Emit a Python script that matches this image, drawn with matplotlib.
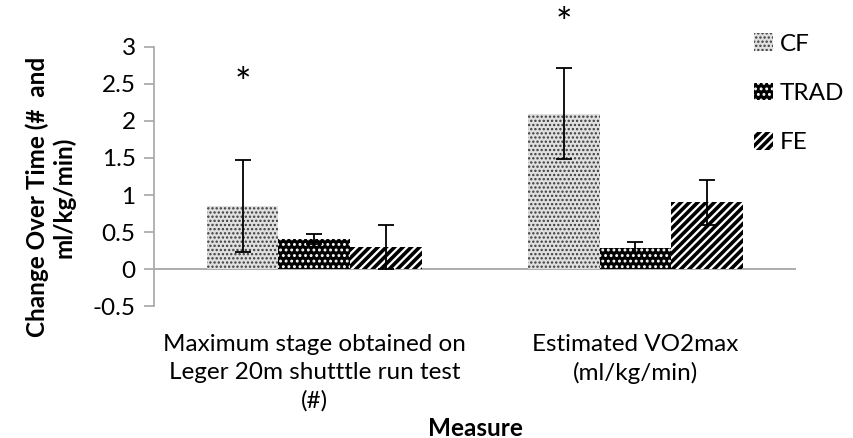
import numpy as np
import matplotlib; matplotlib.use("Agg")
import matplotlib.pyplot as plt
import matplotlib.patches as mpatches
import matplotlib.transforms as mtransforms

plt.rcParams["font.family"] = ["Lato", "DejaVu Sans"]

categories = ["Maximum stage obtained on\nLeger 20m shutttle run test\n(#)",
              "Estimated VO2max\n(ml/kg/min)"]
groups = ["CF", "TRAD", "FE"]
cf_vals = [0.85, 2.10]
trad_vals = [0.41, 0.29]
fe_vals = [0.30, 0.90]
cf_err = [0.62, 0.62]
trad_err = [0.07, 0.07]
fe_err = [0.30, 0.30]
star_y = [2.62, 3.43]   # significance markers above CF bars
yticks = [-0.5, 0, 0.5, 1, 1.5, 2, 2.5, 3]
ytick_labels = ["-0.5", "0", "0.5", "1", "1.5", "2", "2.5", "3"]

# hatch styles: (face, hatch colour, hatch, hatch linewidth)
styles = [("#e0e0e0", "#3a3a3a", "....", 1.1),
          ("black", "white", "...", 1.3),
          ("white", "black", "////", 2.6)]

FS = 17.5
fig = plt.figure(figsize=(8.54, 4.38), dpi=100)
ax = fig.add_axes([0.180, 0.301, 0.752, 0.592])

x = np.arange(len(categories))
w = 0.223
series = [(cf_vals, cf_err), (trad_vals, trad_err), (fe_vals, fe_err)]
handles = []
for i, ((vals, errs), (fc, hc, h, hlw)) in enumerate(zip(series, styles)):
    pos = x + (i - 1) * w
    with plt.rc_context({"hatch.linewidth": hlw}):
        ax.bar(pos, vals, w, facecolor=fc, edgecolor=hc, hatch=h, linewidth=0, zorder=2)
        handles.append(mpatches.Patch(facecolor=fc, edgecolor=hc, hatch=h,
                                      linewidth=0, label=groups[i]))
    ax.errorbar(pos, vals, yerr=errs, fmt="none", ecolor="black",
                elinewidth=1.3, capsize=6, capthick=1.3, zorder=3)

# asterisk glyph sits high in its box, nudge it down a little
star_tr = ax.transData + mtransforms.ScaledTranslation(0, -10 / 100, fig.dpi_scale_trans)
for xi, sy in zip(x - w, star_y):
    ax.text(xi, sy, "*", ha="center", va="center", fontsize=28,
            transform=star_tr, clip_on=False)

ax.axhline(0, color="#a6a6a6", lw=1.3, zorder=1)
ax.set_xlim(-0.5, 1.5)
ax.set_ylim(-0.5, 3)
ax.set_yticks(yticks)
ax.set_yticklabels(ytick_labels, fontsize=FS)
ax.set_xticks(x)
ax.set_xticklabels(categories, fontsize=FS, linespacing=1.4)
ax.tick_params(axis="x", length=0, pad=20)
ax.tick_params(axis="y", length=7, color="#a6a6a6", width=1.2, pad=6)
for s in ["top", "right", "bottom"]:
    ax.spines[s].set_visible(False)
ax.spines["left"].set_color("#a6a6a6")
ax.spines["left"].set_linewidth(1.2)

fig.text(50 / 854, 1 - 197 / 438, "Change Over Time (#  and\nml/kg/min)",
         rotation=90, ha="center", va="center", fontsize=FS,
         fontweight="bold", linespacing=1.15)
fig.text(475 / 854, 1 - 428 / 438, "Measure", ha="center", va="center",
         fontsize=FS, fontweight="bold")

leg = ax.legend(handles=handles, loc="upper left", bbox_to_anchor=(0.92, 1.09),
                frameon=False, fontsize=FS, handlelength=0.75, handleheight=0.75,
                handletextpad=0.3, labelspacing=1.15, borderaxespad=0)
for p, st in zip(leg.get_patches(), styles):
    if hasattr(p, "set_hatch_linewidth"):
        p.set_hatch_linewidth(st[3])
    else:
        p._hatch_linewidth = st[3]

fig.savefig("out.png", dpi=100)
